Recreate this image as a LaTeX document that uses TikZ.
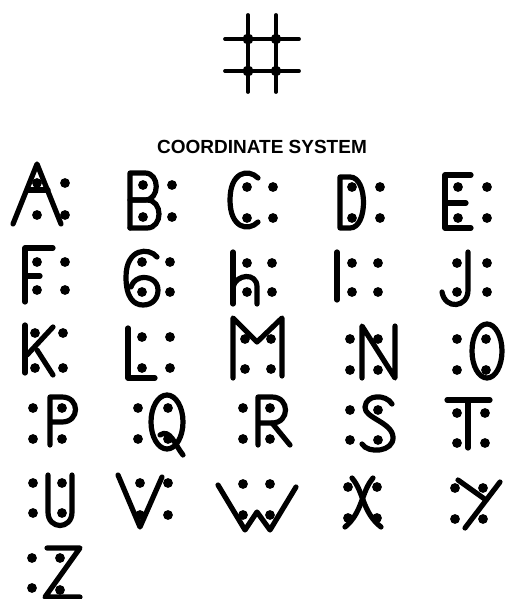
\documentclass[tikz,border=0pt]{standalone}
\usepackage{fontspec}
\setsansfont{Liberation Sans}
\begin{document}
\begin{tikzpicture}[x=1pt,y=-1pt,
  glyph/.style={line width=5.2pt,line cap=round,line join=round},
  gridline/.style={line width=3.8pt,line cap=round},
  dotmark/.style={fill=black}]
\useasboundingbox (0,0) rectangle (505,599);
\fill[white] (0,0) rectangle (505,599);
\newcommand{\dd}[2]{\fill[dotmark] (#1,#2) circle (4.9);}
% grid symbol
\draw[gridline] (248,15) -- (248,92);
\draw[gridline] (276,15) -- (276,92);
\draw[gridline] (225,39) -- (299,39);
\draw[gridline] (225,71) -- (299,71);
\fill (248,39) circle (5.5); \fill (276,39) circle (5.3); \fill (248,71) circle (5.5); \fill (276,71) circle (5.3);
% title
\node[font=\sffamily\bfseries\fontsize{19}{20}\selectfont,inner sep=0pt] (title) at (262,147) {COORDINATE SYSTEM};
% A
\draw[glyph] (13,224) -- (37,164) -- (61,224);
\draw[glyph] (27,190) -- (48,190);
\dd{37}{183}\dd{65}{183}\dd{37}{215}\dd{65}{215}
% B
\draw[glyph] (130,228) -- (130,173) -- (145,173) .. controls (160,173) and (160,200) .. (145,200) -- (130,200);
\draw[glyph] (130,200) -- (147,200) .. controls (163,200) and (163,228) .. (147,228) -- (130,228);
\dd{143}{185}\dd{172}{185}\dd{143}{217}\dd{172}{217}
% C
\draw[glyph] (258,178) .. controls (248,168) and (230,172) .. (230,200) .. controls (230,228) and (248,232) .. (258,222);
\dd{247}{187}\dd{273}{187}\dd{247}{218}\dd{273}{218}
% D
\draw[glyph] (340,177) -- (340,228) -- (350,228) .. controls (368,228) and (368,177) .. (350,177) -- cycle;
\dd{352}{187}\dd{380}{187}\dd{352}{218}\dd{380}{218}
% E
\draw[glyph] (471,175) -- (445,175) -- (445,228) -- (471,228);
\draw[glyph] (445,203) -- (466,203);
\dd{458}{187}\dd{487}{187}\dd{458}{218}\dd{487}{218}
% F
\draw[glyph] (53,248) -- (25,248) -- (25,302);
\draw[glyph] (25,276) -- (40,276);
\dd{37}{262}\dd{65}{262}\dd{37}{290}\dd{65}{290}
% G
\draw[glyph] (157,257) .. controls (149,247) and (126,248) .. (126,277) .. controls (126,298) and (134,305) .. (143,305) .. controls (153,305) and (158,298) .. (158,290) .. controls (158,280) and (148,276) .. (140,278) .. controls (134,280) and (132,284) .. (131,287);
\dd{142}{262}\dd{170}{262}\dd{142}{292}\dd{170}{292}
% h
\draw[glyph] (233,252) -- (233,304);
\draw[glyph] (233,287) .. controls (236,274) and (257,272) .. (257,287) -- (257,304);
\dd{247}{263}\dd{272}{263}\dd{247}{292}\dd{272}{292}
% I
\draw[glyph] (337,252) -- (337,300);
\dd{352}{263}\dd{378}{263}\dd{352}{292}\dd{378}{292}
% J
\draw[glyph] (468,252) -- (468,290) .. controls (468,308) and (445,310) .. (442,292);
\dd{457}{263}\dd{487}{263}\dd{457}{292}\dd{487}{292}
% K
\draw[glyph] (25,325) -- (25,373);
\draw[glyph] (27,355) -- (53,327);
\draw[glyph] (37,350) -- (53,375);
\dd{35}{333}\dd{63}{333}\dd{35}{368}\dd{63}{368}
% L
\draw[glyph] (128,328) -- (128,378) -- (155,378);
\dd{142}{337}\dd{170}{337}\dd{142}{368}\dd{170}{368}
% M
\draw[glyph] (233,378) -- (233,318) -- (257,342) -- (282,318) -- (282,376);
\dd{245}{339}\dd{271}{339}\dd{245}{369}\dd{271}{369}
% N
\draw[glyph] (362,378) -- (362,326) -- (395,378) -- (395,326);
\dd{350}{339}\dd{378}{339}\dd{350}{370}\dd{378}{370}
% O
\draw[glyph] (487,351) ellipse (15 and 27);
\dd{457}{339}\dd{486}{339}\dd{457}{370}\dd{486}{370}
% P
\draw[glyph] (50,445) -- (50,397) -- (62,397) .. controls (80,397) and (80,422) .. (62,422) -- (50,422);
\dd{33}{408}\dd{62}{408}\dd{33}{439}\dd{62}{439}
% Q
\draw[glyph] (167,422) ellipse (16 and 27);
\draw[glyph] (160,435) .. controls (170,428) and (175,445) .. (183,455);
\dd{138}{408}\dd{168}{408}\dd{138}{439}\dd{168}{439}
% R
\draw[glyph] (258,445) -- (258,397) -- (272,397) .. controls (290,397) and (290,423) .. (272,423) -- (258,423);
\draw[glyph] (272,423) -- (290,445);
\dd{243}{408}\dd{270}{408}\dd{243}{439}\dd{270}{439}
% S
\draw[glyph] (392,404) .. controls (386,394) and (366,394) .. (365,407) .. controls (364,418) and (392,422) .. (393,437) .. controls (394,452) and (368,454) .. (362,444);
\dd{350}{410}\dd{378}{410}\dd{350}{440}\dd{378}{440}
% T
\draw[glyph] (447,400) -- (490,400);
\draw[glyph] (468,400) -- (468,448);
\dd{457}{413}\dd{485}{413}\dd{457}{443}\dd{485}{443}
% U
\draw[glyph] (48,475) -- (48,512) .. controls (48,530) and (72,530) .. (72,512) -- (72,475);
\dd{33}{483}\dd{62}{483}\dd{33}{513}\dd{62}{513}
% V
\draw[glyph] (118,475) -- (140,527) -- (162,477);
\dd{140}{483}\dd{168}{483}\dd{140}{515}\dd{168}{515}
% W
\draw[glyph] (218,485) -- (245,530) -- (257,512) -- (270,530) -- (296,487);
\dd{243}{484}\dd{270}{484}\dd{243}{515}\dd{270}{515}
% X
\draw[glyph] (352,478) .. controls (364,492) and (362,512) .. (381,527);
\draw[glyph] (373,478) .. controls (361,492) and (363,512) .. (345,527);
\dd{348}{487}\dd{377}{487}\dd{348}{518}\dd{377}{518}
% Y
\draw[glyph] (500,482) -- (465,528);
\draw[glyph] (458,480) -- (486,500);
\dd{455}{488}\dd{483}{488}\dd{455}{519}\dd{483}{519}
% Z
\draw[glyph] (47,548) -- (80,548) -- (45,597) -- (80,597);
\dd{32}{558}\dd{60}{558}\dd{32}{588}\dd{60}{590}
\end{tikzpicture}
\end{document}
